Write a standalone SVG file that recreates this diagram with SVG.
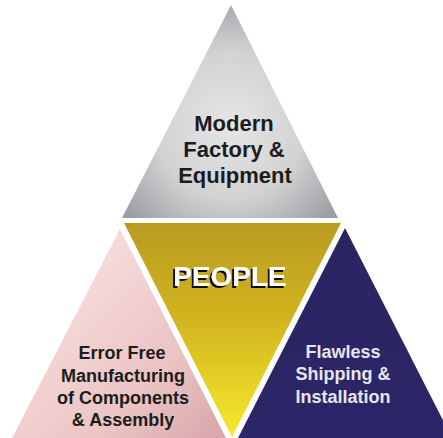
<svg xmlns="http://www.w3.org/2000/svg" width="443" height="438" viewBox="0 0 443 438">
  <style>
    .dark { font-family: "Liberation Sans", Arial, sans-serif; font-weight: bold; fill: #1c1c1c; text-anchor: middle; }
    .light { font-family: "Liberation Sans", Arial, sans-serif; font-weight: bold; fill: #e6e6ef; text-anchor: middle; }
    .people { font-family: "Liberation Sans", Arial, sans-serif; font-weight: bold; font-size: 28px; text-anchor: middle; fill: #ffffff; filter: url(#shadow); }
  </style>
  <defs>
    <filter id="shadow" x="-10%" y="-20%" width="120%" height="150%">
      <feOffset in="SourceAlpha" dx="-2" dy="2" result="off"/>
      <feFlood flood-color="#111111"/>
      <feComposite in2="off" operator="in" result="sh"/>
      <feMerge>
        <feMergeNode in="sh"/>
        <feMergeNode in="SourceGraphic"/>
      </feMerge>
    </filter>
    <radialGradient id="gGray" cx="230" cy="125" r="135" gradientUnits="userSpaceOnUse">
      <stop offset="0" stop-color="#e6e6e6"/>
      <stop offset="0.55" stop-color="#d2d2d3"/>
      <stop offset="1" stop-color="#9c9ea2"/>
    </radialGradient>
    <linearGradient id="gYellow" x1="0" y1="223" x2="0" y2="437" gradientUnits="userSpaceOnUse">
      <stop offset="0" stop-color="#b99b22"/>
      <stop offset="0.45" stop-color="#d2b41f"/>
      <stop offset="1" stop-color="#f6ea2a"/>
    </linearGradient>
    <linearGradient id="gPink" x1="60" y1="290" x2="220" y2="438" gradientUnits="userSpaceOnUse">
      <stop offset="0" stop-color="#f6dcda"/>
      <stop offset="0.6" stop-color="#ebc3c3"/>
      <stop offset="1" stop-color="#d8a7ab"/>
    </linearGradient>
    <linearGradient id="gBlue" x1="0" y1="228" x2="0" y2="438" gradientUnits="userSpaceOnUse">
      <stop offset="0" stop-color="#2a2462"/>
      <stop offset="1" stop-color="#2c2668"/>
    </linearGradient>
  </defs>
  <rect width="443" height="438" fill="#ffffff"/>

  <g id="factory">
    <polygon points="231,5 122,218 338,218" fill="url(#gGray)"/>
    <text class="dark" font-size="22" x="234" y="131">Modern</text>
    <text class="dark" font-size="22" x="234" y="157">Factory &amp;</text>
    <text class="dark" font-size="22" x="235" y="183">Equipment</text>
  </g>

  <g id="people">
    <polygon points="124,223 341,223 232,437" fill="url(#gYellow)"/>
    <text class="people" x="230" y="286">PEOPLE</text>
  </g>

  <g id="manufacturing">
    <polygon points="120,229 12,438 226,438" fill="url(#gPink)"/>
    <text class="dark" font-size="18" x="122" y="359">Error Free</text>
    <text class="dark" font-size="18" x="123" y="382">Manufacturing</text>
    <text class="dark" font-size="18" x="123" y="404">of Components</text>
    <text class="dark" font-size="18" x="123" y="426">&amp; Assembly</text>
  </g>

  <g id="shipping">
    <polygon points="345,228 238,438 452,438" fill="url(#gBlue)"/>
    <text class="light" font-size="18" x="343" y="358">Flawless</text>
    <text class="light" font-size="18" x="343" y="380">Shipping &amp;</text>
    <text class="light" font-size="18" x="343" y="403">Installation</text>
  </g>
</svg>
